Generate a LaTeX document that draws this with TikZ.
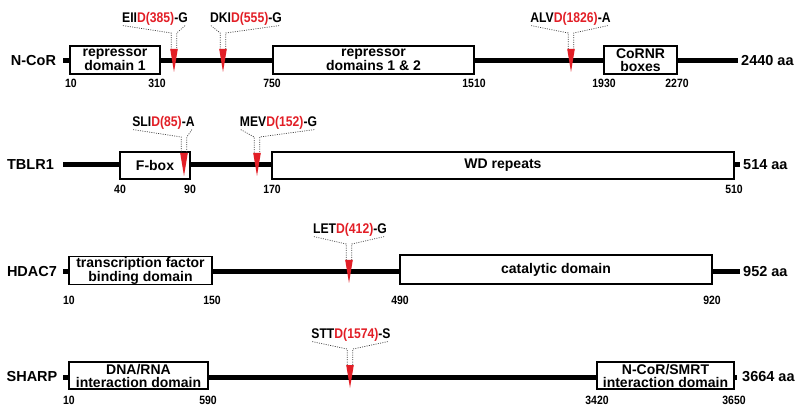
\documentclass[tikz,border=0pt]{standalone}
\usepackage{fontspec}
\setmainfont{Liberation Sans}
\newfontfamily\condfont[FakeStretch=0.87]{Liberation Sans}
\definecolor{cred}{RGB}{226,30,38}
\tikzset{
  backbone/.style={line width=5pt},
  dom/.style={draw, line width=1.3pt, fill=white, inner sep=0pt, align=center,
              font=\bfseries\fontsize{14}{13}\selectfont},
  pname/.style={inner sep=0pt, font=\bfseries\fontsize{14.5}{16}\selectfont},
  plen/.style={anchor=west, inner sep=0pt, font=\bfseries\fontsize{14.5}{16}\selectfont},
  posn/.style={inner sep=0pt, font=\condfont\bfseries\fontsize{12}{14}\selectfont},
  mutlab/.style={inner sep=0pt, font=\condfont\bfseries\fontsize{14}{16}\selectfont},
  guide/.style={black!75, line width=0.7pt, dash pattern=on 1pt off 1.3pt},
  cut/.style={fill=cred}
}
\newcommand{\cleavage}[7]{%
  \node[mutlab, anchor=base] (#1) at (#4,#3-38.5) {#5\textcolor{cred}{#6}#7};
  \coordinate (#1a) at (#2-2.8,#3-28);
  \coordinate (#1b) at (#2+2.8,#3-28);
  \coordinate (#1c) at (#2-2.8,#3-12);
  \coordinate (#1d) at (#2+2.8,#3-12);
  \draw[guide] ([xshift=1pt]#1.south west) -- (#1a) -- (#1c);
  \draw[guide] ([xshift=-3pt]#1.south east) -- (#1b) -- (#1d);
  \fill[cut] (#2-3.8,#3-12) -- (#2+3.8,#3-12) -- (#2,#3+11) -- cycle;
}
\begin{document}
\begin{tikzpicture}[x=1pt,y=-1pt]
\useasboundingbox (0,0) rectangle (800,411);

% ---------------- N-CoR ----------------
\node[pname] (ncor) at (33.5,61) {N-CoR};
\coordinate (ncorS) at (63,61);
\coordinate (ncorE) at (738,61);
\draw[backbone] (ncorS) -- (ncorE);
\node[dom, minimum width=90, minimum height=28] (rd1) at (115,60) {repressor\\domain 1};
\node[dom, minimum width=201, minimum height=28] (rd12) at (373.5,60) {repressor\\domains 1 \& 2};
\node[dom, minimum width=73, minimum height=28] (cornr) at (640.5,60) {CoRNR\\boxes};
\node[plen] (ncorlen) at (741,61) {2440 aa};
\node[posn] (a1) at (71,83) {10};
\node[posn] (a2) at (157,83) {310};
\node[posn] (a3) at (272,83) {750};
\node[posn] (a4) at (474,83) {1510};
\node[posn] (a5) at (604,83) {1930};
\node[posn] (a6) at (677,83) {2270};
\cleavage{m1}{174}{61}{155}{EII}{D(385)}{-G}
\cleavage{m2}{223}{61}{246}{DKI}{D(555)}{-G}
\cleavage{m3}{571}{61}{570.5}{ALV}{D(1826)}{-A}

% ---------------- TBLR1 ----------------
\node[pname] (tblr) at (30.5,165) {TBLR1};
\coordinate (tblrS) at (63,165);
\coordinate (tblrE) at (740,165);
\draw[backbone] (tblrS) -- (tblrE);
\node[dom, minimum width=70, minimum height=27] (fbox) at (155,165.5) {F-box};
\node[dom, minimum width=462, minimum height=27] (wd) at (503,165.5) {WD repeats};
\node[plen] (tblrlen) at (743,165) {514 aa};
\node[posn] (b1) at (120,189) {40};
\node[posn] (b2) at (190,189) {90};
\node[posn] (b3) at (272,189) {170};
\node[posn] (b4) at (734,189) {510};
\cleavage{m4}{184}{165}{163.5}{SLI}{D(85)}{-A}
\cleavage{m5}{257}{165}{278.5}{MEV}{D(152)}{-G}

% ---------------- HDAC7 ----------------
\node[pname] (hdac) at (32,272) {HDAC7};
\coordinate (hdacS) at (63,272);
\coordinate (hdacE) at (740,272);
\draw[backbone] (hdacS) -- (hdacE);
\node[dom, minimum width=143, minimum height=28] (tfbd) at (140.5,270.5) {transcription factor\\binding domain};
\node[dom, minimum width=312, minimum height=29] (cat) at (556,269.5) {catalytic domain};
\node[plen] (hdaclen) at (743,272) {952 aa};
\node[posn] (c1) at (69,300) {10};
\node[posn] (c2) at (212,300) {150};
\node[posn] (c3) at (400,300) {490};
\node[posn] (c4) at (712,300) {920};
\cleavage{m6}{349}{272}{350}{LET}{D(412)}{-G}

% ---------------- SHARP ----------------
\node[pname] (sharp) at (32,377) {SHARP};
\coordinate (sharpS) at (63,377);
\coordinate (sharpE) at (737,377);
\draw[backbone] (sharpS) -- (sharpE);
\node[dom, minimum width=139, minimum height=27] (dna) at (138.5,375.5) {DNA/RNA\\interaction domain};
\node[dom, minimum width=137, minimum height=27] (smrt) at (665.5,375.5) {N-CoR/SMRT\\interaction domain};
\node[plen] (sharplen) at (742,377) {3664 aa};
\node[posn] (d1) at (69,400) {10};
\node[posn] (d2) at (208,400) {590};
\node[posn] (d3) at (597,400) {3420};
\node[posn] (d4) at (734,400) {3650};
\cleavage{m7}{350}{377}{351}{STT}{D(1574)}{-S}
\end{tikzpicture}
\end{document}
